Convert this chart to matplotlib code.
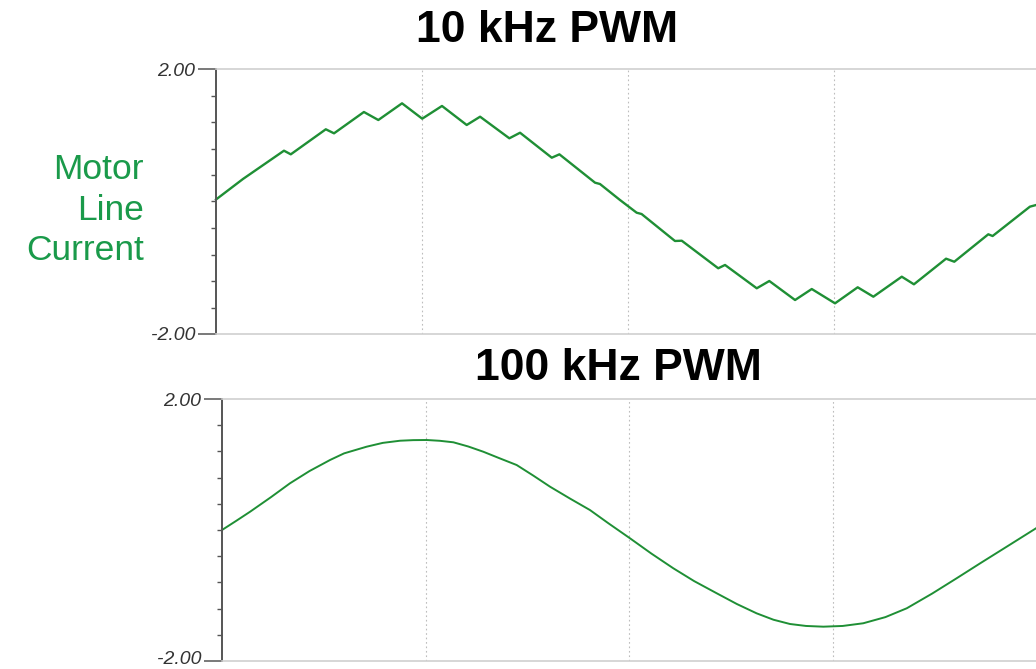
import matplotlib
matplotlib.use("Agg")
import matplotlib.pyplot as plt
import matplotlib.transforms as mtransforms
from matplotlib.ticker import MultipleLocator, FixedLocator

plt.rcParams["font.family"] = ["Liberation Sans", "DejaVu Sans"]

# x in scope divisions, y in amps
pwm10_x = [0.000, 0.131, 0.330, 0.363, 0.533, 0.573, 0.718, 0.788, 0.903, 1.001,
           1.097, 1.217, 1.282, 1.424, 1.476, 1.630, 1.667, 1.840, 1.864, 1.961,
           2.042, 2.066, 2.228, 2.261, 2.438, 2.471, 2.625, 2.686, 2.811, 2.892,
           3.005, 3.115, 3.191, 3.329, 3.388, 3.544, 3.584, 3.749, 3.770, 3.951,
           3.981]
pwm10_y = [0.03, 0.34, 0.767, 0.712, 1.090, 1.029, 1.351, 1.230, 1.482, 1.250,
           1.442, 1.155, 1.280, 0.954, 1.038, 0.661, 0.712, 0.284, 0.264, 0.023,
           -0.169, -0.189, -0.596, -0.592, -1.008, -0.958, -1.310, -1.200, -1.487, -1.321,
           -1.537, -1.295, -1.437, -1.135, -1.250, -0.863, -0.909, -0.495, -0.521, -0.078,
           -0.053]

pwm100_x = [0.000, 0.070, 0.138, 0.240, 0.334, 0.430, 0.531, 0.600, 0.711, 0.790,
            0.875, 0.940, 1.006, 1.070, 1.137, 1.210, 1.284, 1.360, 1.448, 1.530,
            1.612, 1.710, 1.808, 1.900, 2.005, 2.110, 2.218, 2.320, 2.431, 2.530,
            2.627, 2.710, 2.791, 2.870, 2.955, 3.050, 3.151, 3.260, 3.365, 3.490,
            3.610, 3.730, 3.856, 4.000]
pwm100_y = [0.000, 0.140, 0.279, 0.500, 0.713, 0.900, 1.069, 1.170, 1.272, 1.330,
            1.363, 1.372, 1.374, 1.362, 1.339, 1.275, 1.195, 1.100, 0.992, 0.830,
            0.661, 0.480, 0.305, 0.100, -0.127, -0.360, -0.585, -0.780, -0.966, -1.130,
            -1.272, -1.370, -1.435, -1.465, -1.476, -1.465, -1.424, -1.330, -1.195, -0.970,
            -0.737, -0.500, -0.255, 0.026]

titles = ["10 kHz PWM", "100 kHz PWM"]
ylabel = "Motor\nLine\nCurrent"
grid_x = [1, 2, 3]

trace_color = "#1f8f35"
label_green = "#1a9a4a"

W, H = 1036, 669
fig = plt.figure(figsize=(W / 100, H / 100), dpi=100)

# axes rectangles in pixels: left, top, right, bottom
ax_top = fig.add_axes([216 / W, 1 - 334 / H, (1036 - 216) / W, 265 / H])
ax_bot = fig.add_axes([222 / W, 1 - 661 / H, (1036 - 222) / W, 262 / H])


def style_axis(ax, xmax):
    ax.set_xlim(0, xmax)
    ax.set_ylim(-2, 2)
    for s in ["top", "bottom", "right"]:
        ax.spines[s].set_color("#d0d0d0")
        ax.spines[s].set_linewidth(1.2)
    ax.spines["right"].set_visible(False)
    ax.spines["left"].set_color("#555555")
    ax.spines["left"].set_linewidth(1.4)
    ax.set_xticks([])
    ax.yaxis.set_major_locator(FixedLocator([-2, 2]))
    ax.yaxis.set_minor_locator(MultipleLocator(0.4))
    ax.set_yticklabels(["-2.00", "2.00"], fontsize=14, style="italic", color="#333333")
    ax.tick_params(axis="y", which="major", length=13, width=1.1, color="#555555", pad=2)
    ax.tick_params(axis="y", which="minor", length=3.5, width=1.0, color="#555555")
    for gx in grid_x:
        ax.axvline(gx, color="#bdbdbd", linestyle=(0, (1.5, 2.5)), linewidth=0.8, zorder=0)


style_axis(ax_top, (1036 - 216) / 206)
style_axis(ax_bot, 4.0)

# the bottom "-2.00" sits right at the figure edge; nudge it up a few pixels
nudge = mtransforms.ScaledTranslation(0, 4 / 100, fig.dpi_scale_trans)
low_label = ax_bot.get_yticklabels()[0]
low_label.set_transform(low_label.get_transform() + nudge)

ax_top.plot(pwm10_x, pwm10_y, color=trace_color, linewidth=1.7, clip_on=False)
ax_bot.plot(pwm100_x, pwm100_y, color=trace_color, linewidth=1.4)

fig.text(547 / W, 1 - 30 / H, titles[0], ha="center", va="center",
         fontsize=32, fontweight="bold", color="black")
fig.text(618 / W, 1 - 369 / H, titles[1], ha="center", va="center",
         fontsize=32, fontweight="bold", color="black")

fig.text(144 / W, 1 - 210 / H, ylabel, ha="right", va="center",
         fontsize=25.5, color=label_green, linespacing=1.27, multialignment="right")

fig.savefig("out.png", dpi=100)
